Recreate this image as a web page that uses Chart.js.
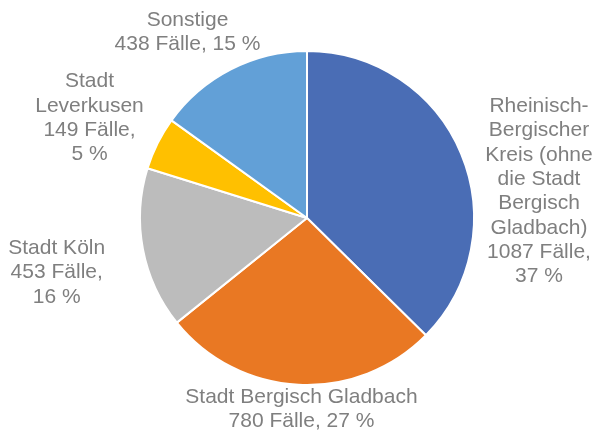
<!DOCTYPE html>
<html>
<head>
<meta charset="utf-8">
<script src="https://cdn.jsdelivr.net/npm/chart.js@4/dist/chart.umd.min.js"></script>
<style>
  html, body { margin: 0; padding: 0; background: #ffffff; }
  #wrap { width: 594px; height: 433px; position: relative; }
</style>
</head>
<body>
<div id="wrap"><canvas id="c" width="594" height="433"></canvas></div>
<script>
// ---- data ----
const categories = [
  "Rheinisch-Bergischer Kreis (ohne die Stadt Bergisch Gladbach)",
  "Stadt Bergisch Gladbach",
  "Stadt Köln",
  "Stadt Leverkusen",
  "Sonstige"
];
const cases = [1087, 780, 453, 149, 438];
const unitLabel = "Fälle";

// ---- label layout (line wrapping of each category name, as in the reference) ----
const nameLines = [
  ["Rheinisch-", "Bergischer", "Kreis (ohne", "die Stadt", "Bergisch", "Gladbach)"],
  ["Stadt Bergisch Gladbach"],
  ["Stadt Köln"],
  ["Stadt", "Leverkusen"],
  ["Sonstige"]
];
const valueOnOneLine = [false, true, false, false, true];
// label anchor (first baseline) offsets from pie centre, in px
const labelOffsets = [[232, -106], [-5.5, 185], [-250.3, 36], [-217.5, -130.7], [-119.5, -192.5]];

const colors = ["#4A6DB5", "#E97823", "#BCBCBC", "#FFC000", "#62A0D7"];

const total = cases.reduce((a, b) => a + b, 0);
function labelFor(i) {
  const pct = Math.round(cases[i] / total * 100) + " %";
  const lines = nameLines[i].slice();
  if (valueOnOneLine[i]) {
    lines.push(cases[i] + " " + unitLabel + ", " + pct);
  } else {
    lines.push(cases[i] + " " + unitLabel + ",");
    lines.push(pct);
  }
  return lines;
}

const labelPlugin = {
  id: "sliceLabels",
  afterDraw(chart) {
    const ctx = chart.ctx;
    const meta = chart.getDatasetMeta(0);
    const cx = meta.data[0].x, cy = meta.data[0].y;
    ctx.save();
    ctx.font = '21px "Liberation Sans", Arial, sans-serif';
    ctx.fillStyle = "#7F7F7F";
    ctx.textAlign = "center";
    ctx.textBaseline = "alphabetic";
    const lh = 24.3;
    meta.data.forEach((arc, i) => {
      const lines = labelFor(i);
      const [dx, dy] = labelOffsets[i];
      lines.forEach((t, k) => ctx.fillText(t, cx + dx, cy + dy + k * lh));
    });
    ctx.restore();
  }
};

new Chart(document.getElementById("c"), {
  type: "pie",
  data: {
    labels: categories,
    datasets: [{
      data: cases,
      backgroundColor: colors,
      borderColor: "#ffffff",
      borderWidth: 2,
      hoverOffset: 0
    }]
  },
  options: {
    responsive: false,
    animation: false,
    events: [],
    layout: { padding: { top: 50, bottom: 47, left: 138, right: 118 } },
    plugins: {
      legend: { display: false },
      tooltip: { enabled: false },
      title: { display: false }
    }
  },
  plugins: [labelPlugin]
});
</script>
</body>
</html>
